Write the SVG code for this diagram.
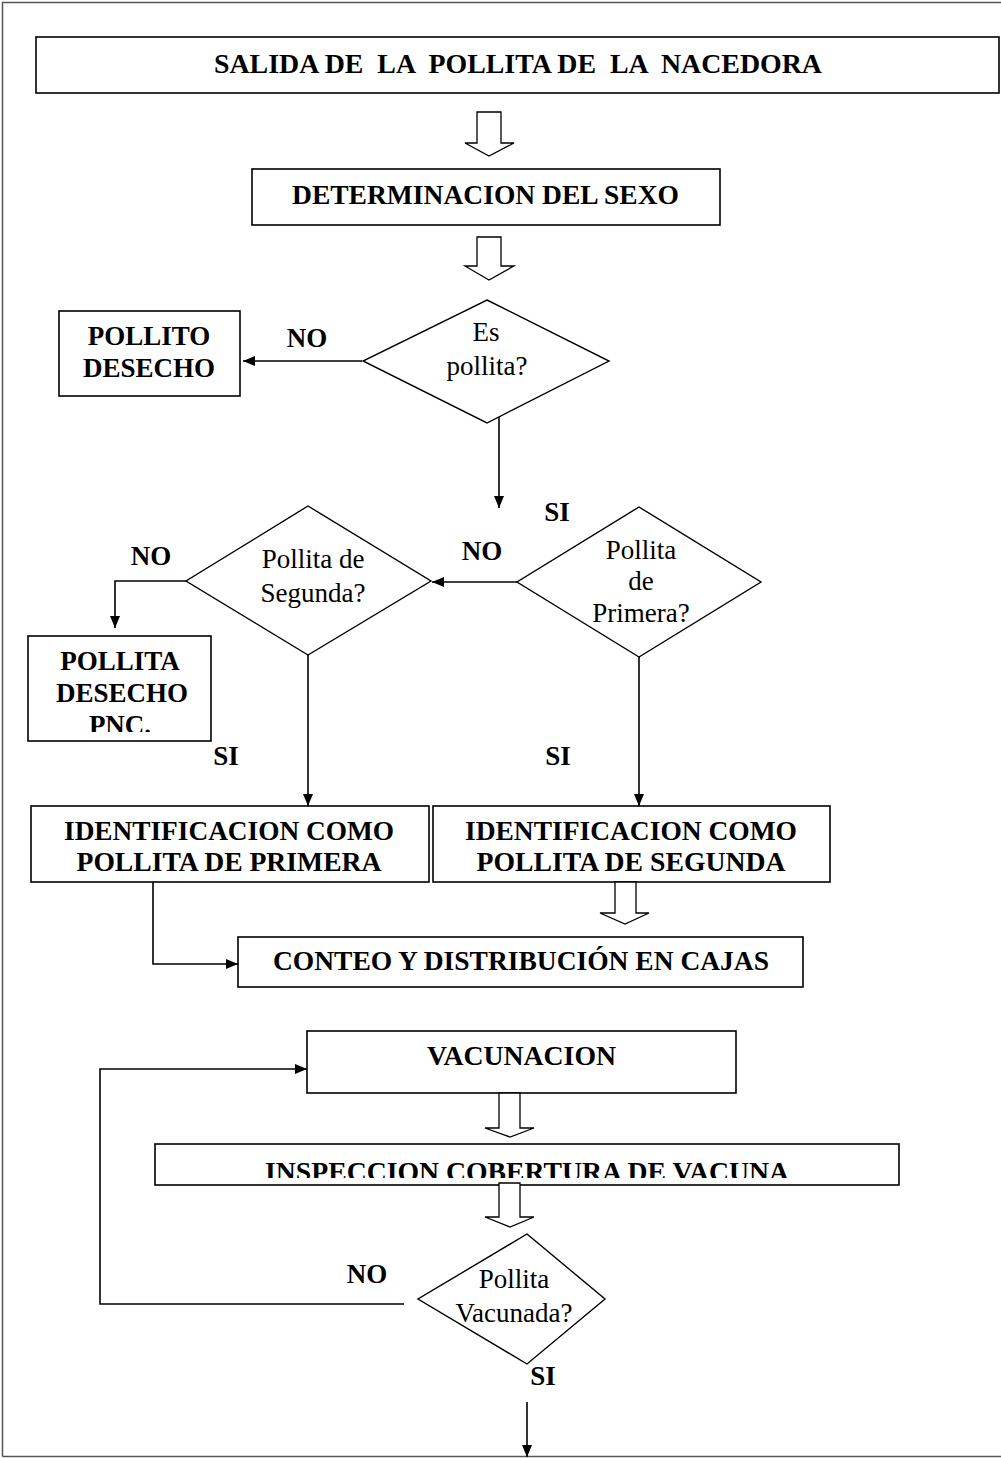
<svg xmlns="http://www.w3.org/2000/svg" width="1001" height="1458" viewBox="0 0 1001 1458">
  <style>
    .box { fill: #fff; stroke: #000; stroke-width: 1.6; }
    .dia { fill: #fff; stroke: #000; stroke-width: 1.4; }
    .hollow { fill: #fff; stroke: #000; stroke-width: 1.3; stroke-linejoin: miter; }
    .line { fill: none; stroke: #000; stroke-width: 1.6; }
    .b { font-family: "Liberation Serif", "Times New Roman", serif; font-weight: bold; font-size: 27px; fill: #000; text-anchor: middle; }
    .r { font-family: "Liberation Serif", "Times New Roman", serif; font-size: 27px; fill: #000; text-anchor: middle; }
  </style>
  <defs>
    <marker id="head" viewBox="0 0 12 10" refX="12" refY="5" markerWidth="12" markerHeight="10" markerUnits="userSpaceOnUse" orient="auto">
      <path d="M0,0 L12,5 L0,10 Z" fill="#000"/>
    </marker>
    <clipPath id="clipPnc"><rect x="28" y="636" width="183" height="96"/></clipPath>
    <clipPath id="clipInsp"><rect x="155" y="1144" width="744" height="34"/></clipPath>
  </defs>

  <!-- page frame -->
  <path d="M2.5,1456.5 V2.5 H1001 M2.5,1456.5 H1001" fill="none" stroke="#555" stroke-width="1.5"/>

  <g id="connectors">
    <path class="line" d="M362,361 H243" marker-end="url(#head)"/>
    <path class="line" d="M499,417 V508" marker-end="url(#head)"/>
    <path class="line" d="M517,582 H432" marker-end="url(#head)"/>
    <path class="line" d="M186,581 H115 V628" marker-end="url(#head)"/>
    <path class="line" d="M308,655 V806" marker-end="url(#head)"/>
    <path class="line" d="M639,657 V806" marker-end="url(#head)"/>
    <path class="line" d="M153,882 V964 H238" marker-end="url(#head)"/>
    <path class="line" d="M404,1304 H100 V1069 H307" marker-end="url(#head)"/>
    <path class="line" d="M527,1402 V1457" marker-end="url(#head)"/>
  </g>

  <g id="salida">
    <rect class="box" x="36" y="37" width="963" height="56"/>
    <text class="b" x="518" y="73" textLength="608" lengthAdjust="spacingAndGlyphs" xml:space="preserve">SALIDA DE  LA  POLLITA DE  LA  NACEDORA</text>
  </g>

  <g id="flecha-1">
    <path class="hollow" d="M477,112 H501 V143 H514 L489,156 L465,143 H477 Z"/>
  </g>

  <g id="sexo">
    <rect class="box" x="252" y="169" width="468" height="56"/>
    <text class="b" x="485.5" y="204" textLength="387" lengthAdjust="spacingAndGlyphs">DETERMINACION DEL SEXO</text>
  </g>

  <g id="flecha-2">
    <path class="hollow" d="M477,237 H501 V266 H514 L489,280 L465,266 H477 Z"/>
  </g>

  <g id="es-pollita">
    <polygon class="dia" points="487,300 609,361 487,423 363,361"/>
    <text class="r" x="486" y="341">Es</text>
    <text class="r" x="487" y="375">pollita?</text>
  </g>

  <g id="pollito-desecho">
    <rect class="box" x="59" y="311" width="181" height="85"/>
    <text class="b" x="149" y="345">POLLITO</text>
    <text class="b" x="149" y="377">DESECHO</text>
  </g>

  <g id="pollita-primera">
    <polygon class="dia" points="639,507 761,582 639,657 517,582"/>
    <text class="r" x="641" y="559">Pollita</text>
    <text class="r" x="641" y="590">de</text>
    <text class="r" x="641" y="622">Primera?</text>
  </g>

  <g id="pollita-segunda">
    <polygon class="dia" points="308,506 431,581 308,655 186,581"/>
    <text class="r" x="313" y="568">Pollita de</text>
    <text class="r" x="313" y="602">Segunda?</text>
  </g>

  <g id="pollita-desecho-pnc">
    <rect class="box" x="28" y="636" width="183" height="105"/>
    <text class="b" x="120" y="670">POLLITA</text>
    <text class="b" x="122" y="702">DESECHO</text>
    <text class="b" x="120" y="734" clip-path="url(#clipPnc)">PNC.</text>
  </g>

  <g id="ident-primera">
    <rect class="box" x="31" y="806" width="398" height="76"/>
    <text class="b" x="229" y="840" textLength="330" lengthAdjust="spacingAndGlyphs">IDENTIFICACION COMO</text>
    <text class="b" x="229" y="871" textLength="305" lengthAdjust="spacingAndGlyphs">POLLITA DE PRIMERA</text>
  </g>

  <g id="ident-segunda">
    <rect class="box" x="433" y="806" width="397" height="76"/>
    <text class="b" x="631" y="840" textLength="332" lengthAdjust="spacingAndGlyphs">IDENTIFICACION COMO</text>
    <text class="b" x="631" y="871" textLength="309" lengthAdjust="spacingAndGlyphs">POLLITA DE SEGUNDA</text>
  </g>

  <g id="flecha-3">
    <path class="hollow" d="M615,882 H636 V913 H649 L625,924 L600,913 H615 Z"/>
  </g>

  <g id="conteo">
    <rect class="box" x="238" y="937" width="565" height="50"/>
    <text class="b" x="521" y="970" textLength="496" lengthAdjust="spacingAndGlyphs">CONTEO Y DISTRIBUCIÓN EN CAJAS</text>
  </g>

  <g id="vacunacion">
    <rect class="box" x="307" y="1031" width="429" height="62"/>
    <text class="b" x="521.5" y="1065" textLength="189" lengthAdjust="spacingAndGlyphs">VACUNACION</text>
  </g>

  <g id="flecha-4">
    <path class="hollow" d="M499,1093 H520 V1128 H534 L510,1137 L485,1128 H499 Z"/>
  </g>

  <g id="inspeccion">
    <rect class="box" x="155" y="1144" width="744" height="41"/>
    <text class="b" x="527" y="1181" textLength="524" lengthAdjust="spacingAndGlyphs" clip-path="url(#clipInsp)">INSPECCION COBERTURA DE VACUNA</text>
  </g>

  <g id="flecha-5">
    <path class="hollow" d="M499,1183 H520 V1217 H534 L510,1227 L485,1217 H499 Z"/>
  </g>

  <g id="pollita-vacunada">
    <polygon class="dia" points="527,1234 605,1299 527,1364 418,1299"/>
    <text class="r" x="514" y="1288">Pollita</text>
    <text class="r" x="514" y="1322">Vacunada?</text>
  </g>

  <g id="etiquetas">
    <text class="b" x="307" y="347">NO</text>
    <text class="b" x="557" y="521">SI</text>
    <text class="b" x="482" y="560">NO</text>
    <text class="b" x="151" y="565">NO</text>
    <text class="b" x="226" y="765">SI</text>
    <text class="b" x="558" y="765">SI</text>
    <text class="b" x="367" y="1283">NO</text>
    <text class="b" x="543" y="1385">SI</text>
  </g>
</svg>
